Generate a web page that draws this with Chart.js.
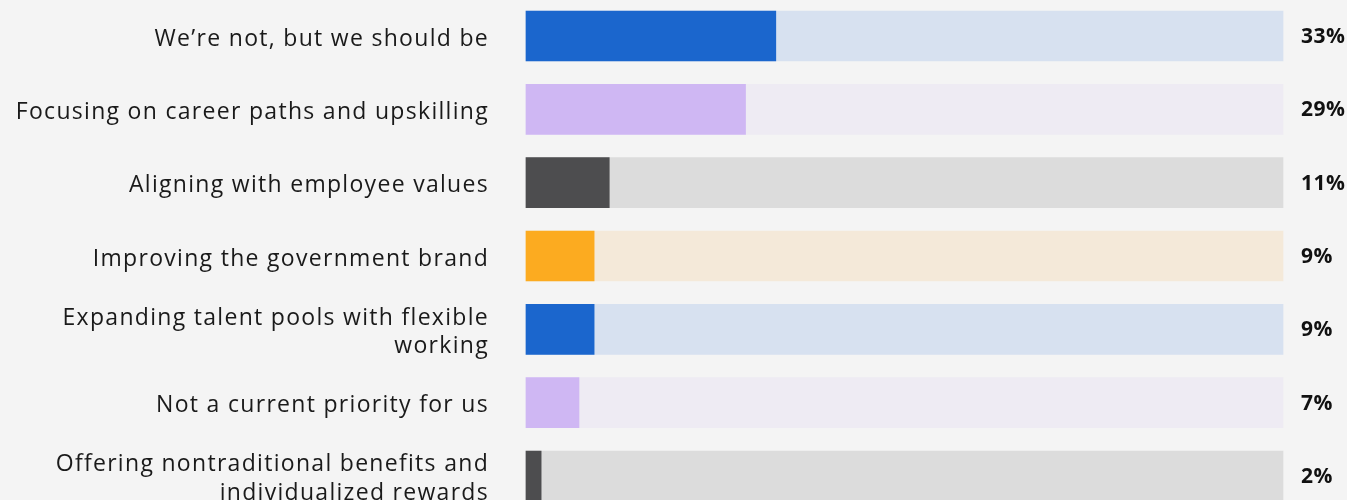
<!DOCTYPE html>
<html>
<head>
<meta charset="utf-8">
<script src="https://cdn.jsdelivr.net/npm/chart.js@4"></script>
<style>
    html, body { margin: 0; padding: 0; background: #f4f4f4; overflow: hidden; }
    canvas { display: block; }
</style>
</head>
<body>
<canvas id="myChart" width="1347" height="500"></canvas>
<script>
const categories = [
    'We\u2019re not, but we should be',
    'Focusing on career paths and upskilling',
    'Aligning with employee values',
    'Improving the government brand',
    ['Expanding talent pools with flexible', 'working'],
    'Not a current priority for us',
    ['Offering nontraditional benefits and', 'individualized rewards']
]
const values = [33, 29, 11, 9, 9, 7, 2]
const trackValues = [100, 100, 100, 100, 100, 100, 100]
const valueLabels = ['33%', '29%', '11%', '9%', '9%', '7%', '2%']

const barColors = ['#1b66cd', '#cfb7f3', '#4d4d4f', '#fcab20', '#1b66cd', '#cfb7f3', '#4d4d4f']
const trackColors = ['#d7e1f0', '#eeebf3', '#dcdcdc', '#f4e9d9', '#d7e1f0', '#eeebf3', '#dcdcdc']

// wider tracking on the category labels, like the original typeface
const spacing = {
    id: 'spacing',
    beforeDraw: function(chart) {
        chart.ctx.letterSpacing = '1.3px'
    }
}

// percentages on the right of each track
const percentLabels = {
    id: 'percentLabels',
    afterDatasetsDraw: function(chart) {
        const ctx = chart.ctx
        const x = chart.scales.x.right + 18
        ctx.save()
        ctx.letterSpacing = '0.5px'
        ctx.font = 'bold 21px "Open Sans"'
        ctx.fillStyle = '#111111'
        ctx.textAlign = 'left'
        ctx.textBaseline = 'middle'
        valueLabels.forEach(function(label, i) {
            const y = chart.scales.y.getPixelForValue(i)
            ctx.fillText(label, x, y + 1)
        })
        ctx.restore()
    }
}

const ctx = document.getElementById('myChart').getContext('2d')

new Chart(ctx, {
    type: 'bar',
    data: {
        labels: categories,
        datasets: [{
            data: values,
            backgroundColor: barColors,
            barThickness: 50,
            grouped: false,
            clip: false
        }, {
            data: trackValues,
            backgroundColor: trackColors,
            barThickness: 50,
            grouped: false,
            clip: false
        }]
    },
    options: {
        indexAxis: 'y',
        responsive: false,
        devicePixelRatio: 1,
        animation: false,
        layout: {
            padding: { top: 36, bottom: 24, left: 0, right: 64 }
        },
        scales: {
            x: {
                display: false,
                min: 0,
                max: 100
            },
            y: {
                offset: false,
                grid: { display: false, drawTicks: false },
                border: { display: false },
                ticks: {
                    padding: 37,
                    labelOffset: 3,
                    color: '#1a1a1a',
                    font: { family: 'Open Sans', size: 23, lineHeight: 1.25 }
                },
                afterFit: function(scale) {
                    scale.width = 526
                    scale.paddingTop = 0
                    scale.paddingBottom = 0
                }
            }
        },
        plugins: {
            legend: { display: false },
            tooltip: { enabled: false }
        }
    },
    plugins: [spacing, percentLabels]
})
</script>
</body>
</html>
